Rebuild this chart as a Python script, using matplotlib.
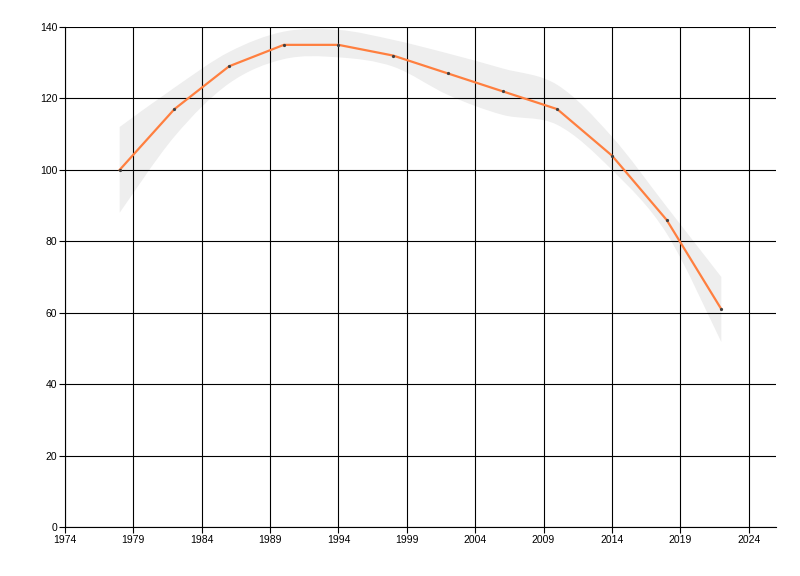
import matplotlib
matplotlib.use("Agg")
import matplotlib.pyplot as plt
from matplotlib.path import Path
from matplotlib.patches import PathPatch

years = [1978, 1982, 1986, 1990, 1994, 1998, 2002, 2006, 2010, 2014, 2018, 2022]
values = [100, 117, 129, 135, 135, 132, 127, 122, 117, 104, 86, 61]
upper = [112, 123, 133, 138.7, 139.2, 136.4, 132.6, 128.4, 123.8, 109.3, 89.7, 70]
lower = [88, 109.3, 124.2, 131, 131.5, 128.9, 121, 115.4, 112.6, 100, 82.2, 51.8]
xticks = [1974, 1979, 1984, 1989, 1994, 1999, 2004, 2009, 2014, 2019, 2024]
yticks = [0, 20, 40, 60, 80, 100, 120, 140]


def bezier_segments(xs, ys):
    """Catmull-Rom -> cubic Bezier control points (verts, codes) for a smooth path."""
    pts = list(zip(xs, ys))
    verts = [pts[0]]
    codes = []
    n = len(pts)
    for i in range(n - 1):
        p0 = pts[i - 1] if i > 0 else pts[i]
        p1 = pts[i]
        p2 = pts[i + 1]
        p3 = pts[i + 2] if i + 2 < n else pts[i + 1]
        c1 = (p1[0] + (p2[0] - p0[0]) / 6.0, p1[1] + (p2[1] - p0[1]) / 6.0)
        c2 = (p2[0] - (p3[0] - p1[0]) / 6.0, p2[1] - (p3[1] - p1[1]) / 6.0)
        verts += [c1, c2, p2]
        codes += [Path.CURVE4] * 3
    return verts, codes


fig = plt.figure(figsize=(8, 5.76), dpi=100)
ax = fig.add_axes([65 / 800, 1 - 527 / 576, (776 - 65) / 800, 500 / 576])

uv, uc = bezier_segments(years, upper)
lv, lc = bezier_segments(years[::-1], lower[::-1])
verts = uv + [lv[0]] + lv[1:] + [uv[0]]
codes = [Path.MOVETO] + uc + [Path.LINETO] + lc + [Path.CLOSEPOLY]
band = PathPatch(Path(verts, codes), facecolor="#EEEEEE", edgecolor="none", zorder=1)
ax.add_patch(band)

ax.plot(years, values, color="#FF7F3F", linewidth=1.6, zorder=3)
ax.plot(years, values, linestyle="none", marker="o", markersize=1.3,
        markerfacecolor="#404040", markeredgecolor="#404040", zorder=4)

ax.set_xlim(1974, 2026)
ax.set_ylim(0, 140)
ax.set_xticks(xticks)
ax.set_yticks(yticks)
ax.grid(True, color="black", linewidth=0.8)
for gl in ax.get_xgridlines() + ax.get_ygridlines():
    gl.set_zorder(2)

for s in ["top", "right"]:
    ax.spines[s].set_visible(False)
for s in ["left", "bottom"]:
    ax.spines[s].set_color("black")
    ax.spines[s].set_linewidth(0.8)

ax.tick_params(axis="both", direction="out", length=4, width=0.8, color="black",
               labelsize=7.5, pad=1.5, labelcolor="black")
for lab in ax.get_xticklabels() + ax.get_yticklabels():
    lab.set_family("Liberation Sans")

fig.savefig("out.png", dpi=100, facecolor="white")
